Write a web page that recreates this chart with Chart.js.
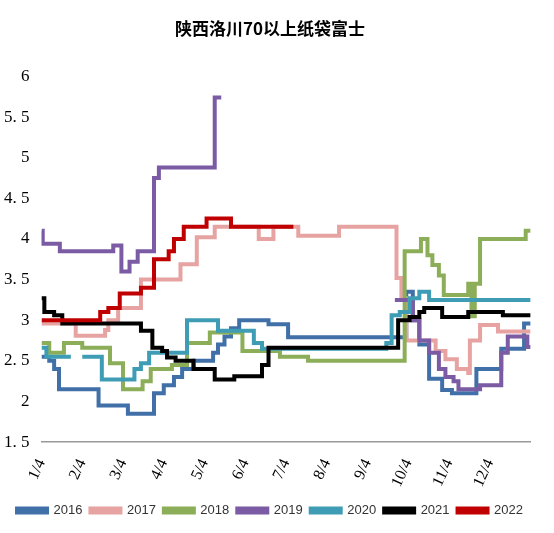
<!DOCTYPE html>
<html>
<head>
<meta charset="utf-8">
<script src="https://cdn.jsdelivr.net/npm/chart.js@4"></script>
<style>
  body { margin: 0; background: #fff; }
  #wrap { width: 554px; height: 533px; }
</style>
</head>
<body>
<div id="wrap"><canvas id="chart"></canvas></div>
<script>
// x = months since 1/4, y = price
var monthLabels = ['1/4', '2/4', '3/4', '4/4', '5/4', '6/4', '7/4', '8/4', '9/4', '10/4', '11/4', '12/4'];

var s2016 = [[0, 2.55], [0.19, 2.5], [0.31, 2.4], [0.43, 2.15], [1.4, 1.95], [2.12, 1.85], [2.76, 2.1], [3.0, 2.2], [3.25, 2.3], [3.45, 2.4], [3.73, 2.5], [4.21, 2.6], [4.33, 2.7], [4.49, 2.8], [4.65, 2.9], [4.85, 3.0], [5.57, 2.95], [6.05, 2.79], [8.83, 2.79], [8.95, 3.35], [9.11, 3.0], [9.27, 2.7], [9.51, 2.28], [9.83, 2.14], [10.07, 2.1], [10.67, 2.4], [11.28, 2.65], [11.84, 2.96], [12, 2.96]];
var s2017 = [[0, 2.96], [0.84, 2.81], [1.56, 2.88], [1.64, 3.0], [1.88, 3.15], [2.44, 3.5], [3.41, 3.69], [3.81, 4.02], [4.25, 4.15], [5.33, 4.0], [5.69, 4.15], [6.3, 4.04], [7.3, 4.15], [8.71, 3.52], [8.83, 3.27], [8.95, 2.75], [9.67, 2.62], [9.91, 2.52], [10.19, 2.4], [10.47, 2.35], [10.51, 2.75], [10.76, 2.94], [11.2, 2.86], [12, 2.86]];
var s2018 = [[0, 2.72], [0.19, 2.6], [0.55, 2.72], [1.0, 2.66], [1.68, 2.47], [2.0, 2.15], [2.48, 2.25], [2.68, 2.4], [3.2, 2.45], [3.57, 2.72], [4.13, 2.85], [4.93, 2.62], [5.85, 2.55], [6.54, 2.5], [8.91, 3.85], [9.31, 4.0], [9.47, 3.8], [9.59, 3.68], [9.75, 3.55], [9.87, 3.31], [10.47, 3.45], [10.55, 3.05], [10.63, 3.45], [10.76, 4.0], [11.88, 4.1], [12, 4.1]];
var s2019 = [[0, 4.1], [0.03, 3.94], [0.45, 3.85], [1.76, 3.92], [1.96, 3.6], [2.16, 3.72], [2.36, 3.85], [2.76, 4.75], [2.88, 4.88], [4.25, 5.74], [4.41, 5.74], [4.5, null], [8.67, 3.25], [9.11, 3.0], [9.27, 2.75], [9.51, 2.6], [9.75, 2.4], [9.91, 2.3], [10.11, 2.25], [10.23, 2.15], [10.76, 2.2], [11.28, 2.6], [11.44, 2.8], [11.92, 2.67], [12, 2.67]];
var s2020 = [[0, 2.66], [0.12, 2.55], [0.72, 2.55], [0.8, null], [1.0, 2.55], [1.48, 2.27], [2.28, 2.4], [2.44, 2.47], [2.64, 2.6], [3.57, 3.0], [4.33, 2.87], [5.21, 2.72], [5.41, 2.65], [8.46, 2.72], [8.59, 3.06], [8.79, 3.1], [9.03, 3.27], [9.27, 3.35], [9.51, 3.25], [12, 3.25]];
var s2021 = [[0, 3.27], [0.07, 3.1], [0.31, 3.06], [0.51, 2.96], [2.44, 2.87], [2.72, 2.66], [2.96, 2.62], [3.08, 2.54], [3.29, 2.5], [3.73, 2.4], [4.25, 2.27], [4.73, 2.31], [5.41, 2.45], [5.57, 2.66], [8.75, 3.0], [9.03, 3.04], [9.27, 3.1], [9.39, 3.15], [9.83, 3.04], [10.47, 3.1], [11.32, 3.06], [12, 3.06]];
var s2022 = [[0, 3.0], [1.44, 3.1], [1.64, 3.15], [1.92, 3.33], [2.44, 3.4], [2.76, 3.75], [3.12, 3.85], [3.25, 4.0], [3.49, 4.15], [4.05, 4.25], [4.65, 4.15], [6.18, 4.15]];

var seriesNames = ['2016', '2017', '2018', '2019', '2020', '2021', '2022'];
var seriesData = [s2016, s2017, s2018, s2019, s2020, s2021, s2022];
var colors = ['#4170a9', '#e6a3a2', '#8cae58', '#7a5ba4', '#3e9db4', '#000000', '#c00000'];

var toPoints = function (arr) {
    return arr.map(function (p) { return { x: p[0], y: p[1] }; });
};

var datasets = seriesNames.map(function (name, i) {
    return {
        label: name,
        data: toPoints(seriesData[i]),
        borderColor: colors[i],
        backgroundColor: colors[i],
        borderWidth: 4,
        pointRadius: 0,
        stepped: 'before',
        spanGaps: false,
        order: seriesNames.length - i
    };
});

var serif = "'Liberation Serif', 'DejaVu Serif', serif";

var ctx = document.getElementById('chart').getContext('2d');
var myChart = new Chart(ctx, {
    type: 'line',
    data: { datasets: datasets },
    options: {
        responsive: true,
        maintainAspectRatio: false,
        animation: false,
        layout: { padding: { left: 0, right: 14, top: 4, bottom: 6 } },
        plugins: {
            title: {
                display: true,
                text: '陕西洛川70以上纸袋富士',
                color: '#000',
                font: { family: "'Noto Sans CJK SC'", size: 17, weight: 'bold' },
                padding: { top: 14, bottom: 38 }
            },
            legend: {
                position: 'bottom',
                labels: {
                    color: '#333',
                    font: { family: "'Liberation Sans', Arial", size: 13 },
                    boxWidth: 30,
                    boxHeight: 4,
                    padding: 8,
                    sort: function (a, b) { return a.datasetIndex - b.datasetIndex; }
                }
            },
            tooltip: { enabled: false }
        },
        scales: {
            x: {
                type: 'linear',
                min: 0,
                max: 12,
                grid: { display: false, drawTicks: true },
                border: { display: true, color: '#999', width: 1.5 },
                ticks: {
                    stepSize: 1,
                    color: '#000',
                    font: { family: serif, size: 16 },
                    padding: 6,
                    maxRotation: 65,
                    minRotation: 65,
                    callback: function (v) { return monthLabels[v] || ''; }
                }
            },
            y: {
                min: 1.5,
                max: 6,
                grid: { display: false },
                border: { display: false },
                ticks: {
                    stepSize: 0.5,
                    color: '#000',
                    font: { family: serif, size: 17 },
                    padding: 4,
                    callback: function (v) {
                        var s = v % 1 === 0 ? String(v) : v.toFixed(1);
                        return s.replace('.', '. ');
                    }
                }
            }
        }
    }
});
</script>
</body>
</html>
